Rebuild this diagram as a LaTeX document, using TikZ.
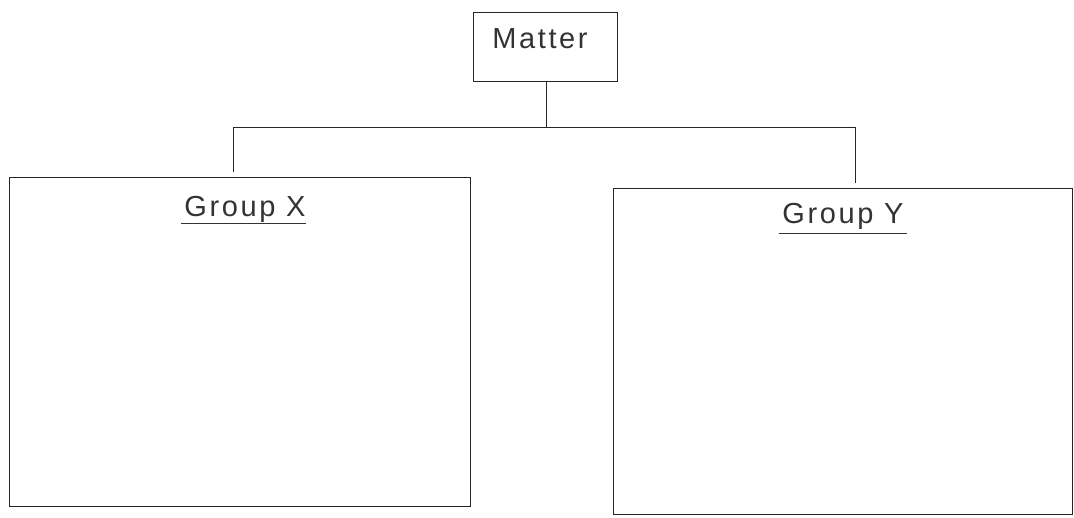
\documentclass[tikz,border=0pt]{standalone}
\usepackage{fontspec}
\setmainfont{Liberation Sans}[LetterSpace=9]
\usetikzlibrary{calc}
\begin{document}
\begin{tikzpicture}[x=1pt,y=-1pt,
  frame/.style={draw=black!85, line width=0.9pt, fill=none, inner sep=0pt, anchor=north west},
  link/.style={draw=black!85, line width=0.9pt},
  title/.style={font=\fontsize{29}{32}\selectfont, text=black!80, inner sep=0pt, anchor=base},
  rule/.style={draw=black!80, line width=0.9pt}]
\useasboundingbox (0,0) rectangle (1074,518);

% top box
\node[frame, minimum width=144pt, minimum height=69pt] (matter) at (473,12) {};
\node[title] (mattertext) at (540,49) {Matter};

% two group frames
\node[frame, minimum width=461pt, minimum height=329pt] (gx) at (9,177) {};
\node[frame, minimum width=459pt, minimum height=326pt] (gy) at (613,188) {};

% group headings with underlines
\node[title] (gxt) at (245,217) {Group X};
\node[title] (gyt) at (843,224) {Group Y};
\draw[rule] ($(gxt.base west)+(-3,6)$) -- ($(gxt.base east)+(0,6)$);
\draw[rule] ($(gyt.base west)+(-3,9)$) -- ($(gyt.base east)+(3,9)$);

% connectors
\coordinate (bus) at (546,127);
\coordinate (busl) at (233,127);
\coordinate (busr) at (855,127);
\coordinate (dropl) at (233,172);
\coordinate (dropr) at (855,183);
\draw[link] (matter.south -| bus) -- (bus);
\draw[link] (busl) -- (busr);
\draw[link] (busl) -- (dropl);
\draw[link] (busr) -- (dropr);
\end{tikzpicture}
\end{document}
